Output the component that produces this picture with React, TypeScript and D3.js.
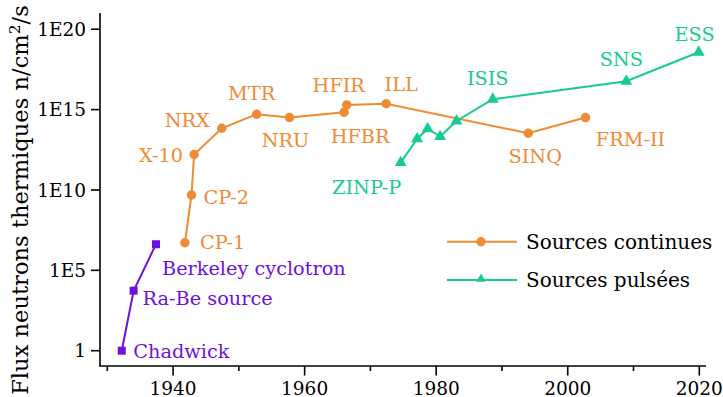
import React from "react";
import * as d3 from "d3";

// ---------- data ----------
const earlyNames = ["Chadwick", "Ra-Be source", "Berkeley cyclotron"];
const earlyYears = [1932.2, 1934.0, 1937.4];
const earlyFlux = [1, 5.4e3, 4.2e6];

const contNames = ["CP-1", "CP-2", "X-10", "NRX", "MTR", "NRU", "HFBR", "HFIR", "ILL", "SINQ", "FRM-II"];
const contYears = [1941.8, 1942.8, 1943.2, 1947.4, 1952.7, 1957.7, 1966.0, 1966.4, 1972.4, 1994.0, 2002.7];
const contFlux = [5.2e6, 4.9e9, 1.6e12, 6.9e13, 5.1e14, 3.2e14, 6.8e14, 1.95e15, 2.3e15, 3.4e13, 3.2e14];

const pulsNames = ["ZINP-P", "", "", "", "", "ISIS", "SNS", "ESS"];
const pulsYears = [1974.6, 1977.1, 1978.7, 1980.6, 1983.1, 1988.6, 2008.9, 2019.9];
const pulsFlux = [5e11, 1.5e13, 6.5e13, 2.1e13, 1.95e14, 4.4e15, 5.8e16, 3.7e18];

const xMajorTicks = [1940, 1960, 1980, 2000, 2020];
const xMinorTicks = [1930, 1950, 1970, 1990, 2010];
const yTicks = [1, 1e5, 1e10, 1e15, 1e20];
const yTickLabels = ["1", "1E5", "1E10", "1E15", "1E20"];

const legendLabels = ["Sources continues", "Sources pulsées"];

// ---------- layout (label placement, styles) ----------
type Lab = { dx: number; dy: number; anchor: "start" | "middle" | "end" };
const labelLayout: Record<string, Lab> = {
  "Chadwick": { dx: 11.5, dy: 0, anchor: "start" },
  "Ra-Be source": { dx: 9, dy: 7, anchor: "start" },
  "Berkeley cyclotron": { dx: 6, dy: 24, anchor: "start" },
  "CP-1": { dx: 15, dy: -1, anchor: "start" },
  "CP-2": { dx: 12, dy: 2, anchor: "start" },
  "X-10": { dx: -11, dy: 1, anchor: "end" },
  "NRX": { dx: -12, dy: -8, anchor: "end" },
  "MTR": { dx: -5, dy: -21, anchor: "middle" },
  "NRU": { dx: -4, dy: 22, anchor: "middle" },
  "HFIR": { dx: -8, dy: -20, anchor: "middle" },
  "HFBR": { dx: 16, dy: 24, anchor: "middle" },
  "ILL": { dx: 15, dy: -20, anchor: "middle" },
  "SINQ": { dx: 7, dy: 23, anchor: "middle" },
  "FRM-II": { dx: 45, dy: 21, anchor: "middle" },
  "ZINP-P": { dx: -34, dy: 24, anchor: "middle" },
  "ISIS": { dx: -5, dy: -21, anchor: "middle" },
  "SNS": { dx: -5, dy: -22, anchor: "middle" },
  "ESS": { dx: -4, dy: -18, anchor: "middle" },
};

const W = 723;
const H = 397;
const FONT = "'DejaVu Serif', serif";
const ORANGE = "#f08a34";
const GREEN = "#16cc8a";
const PURPLE = "#7010dd";

const x = d3.scaleLinear().domain([1928.89, 2021.02]).range([100, 706]);
const y = d3.scaleLog().domain([Math.pow(10, -0.952), Math.pow(10, 21.01)]).range([366, 13]);

const line = d3
  .line<[number, number]>()
  .x((d) => x(d[0]))
  .y((d) => y(d[1]));

const zip = (a: number[], b: number[]) => a.map((v, i) => [v, b[i]] as [number, number]);

const triPath = d3.symbol(d3.symbolTriangle, 62)() as string;
const triLegend = d3.symbol(d3.symbolTriangle, 40)() as string;

function Labels({ names, years, flux, color }: { names: string[]; years: number[]; flux: number[]; color: string }) {
  return (
    <g fontFamily={FONT} fontSize={19.3} fill={color}>
      {names.map((n, i) => {
        if (!n) return null;
        const l = labelLayout[n];
        return (
          <text key={n} x={x(years[i]) + l.dx} y={y(flux[i]) + l.dy} dy="0.36em" textAnchor={l.anchor}>
            {n}
          </text>
        );
      })}
    </g>
  );
}

export default function App() {
  const early = zip(earlyYears, earlyFlux);
  const cont = zip(contYears, contFlux);
  const puls = zip(pulsYears, pulsFlux);
  return (
    <svg width={W} height={H} style={{ position: "absolute", left: 0, top: 0, background: "#fff" }}>
      {/* axes */}
      <g stroke="#000" strokeWidth={1.6} fill="none">
        <line x1={100} x2={100} y1={13} y2={366.5} />
        <line x1={99.2} x2={706} y1={366} y2={366} />
        {yTicks.map((t) => (
          <line key={t} x1={91} x2={100} y1={y(t)} y2={y(t)} />
        ))}
        {xMajorTicks.map((t) => (
          <line key={t} x1={x(t)} x2={x(t)} y1={366} y2={375.5} />
        ))}
        {xMinorTicks.map((t) => (
          <line key={t} x1={x(t)} x2={x(t)} y1={366} y2={371} />
        ))}
      </g>
      <g fontFamily={FONT} fontSize={18.5} fill="#000">
        {yTicks.map((t, i) => (
          <text key={t} x={86} y={y(t)} dy="0.36em" textAnchor="end">
            {yTickLabels[i]}
          </text>
        ))}
        {xMajorTicks.map((t) => (
          <text key={t} x={x(t)} y={394.5} textAnchor="middle">
            {t}
          </text>
        ))}
      </g>
      <text
        transform="translate(28,200) rotate(-90)"
        textAnchor="middle"
        fontFamily={FONT}
        fontSize={22.6}
        fill="#000"
      >
        Flux neutrons thermiques n/cm
        <tspan dy={-8} fontSize={15.5}>2</tspan>
        <tspan dy={8}>/s</tspan>
      </text>

      {/* series */}
      <path d={line(early) as string} fill="none" stroke={PURPLE} strokeWidth={2} />
      <path d={line(cont) as string} fill="none" stroke={ORANGE} strokeWidth={2} />
      <path d={line(puls) as string} fill="none" stroke={GREEN} strokeWidth={2} />
      {early.map((d, i) => (
        <rect key={i} x={x(d[0]) - 4} y={y(d[1]) - 4} width={8} height={8} fill={PURPLE} />
      ))}
      {cont.map((d, i) => (
        <circle key={i} cx={x(d[0])} cy={y(d[1])} r={4.7} fill={ORANGE} />
      ))}
      {puls.map((d, i) => (
        <path key={i} d={triPath} transform={`translate(${x(d[0])},${y(d[1])})`} fill={GREEN} />
      ))}

      <Labels names={earlyNames} years={earlyYears} flux={earlyFlux} color={PURPLE} />
      <Labels names={contNames} years={contYears} flux={contFlux} color={ORANGE} />
      <Labels names={pulsNames} years={pulsYears} flux={pulsFlux} color={GREEN} />

      {/* legend */}
      <g fontFamily={FONT} fontSize={20} fill="#000">
        <line x1={447} x2={517} y1={241.7} y2={241.7} stroke={ORANGE} strokeWidth={2} />
        <circle cx={481} cy={241.7} r={4.7} fill={ORANGE} />
        <text x={526} y={241.7} dy="0.36em">{legendLabels[0]}</text>
        <line x1={447} x2={517} y1={280} y2={280} stroke={GREEN} strokeWidth={2} />
        <path d={triLegend} transform="translate(481,279)" fill={GREEN} />
        <text x={526} y={280} dy="0.36em">{legendLabels[1]}</text>
      </g>
    </svg>
  );
}
